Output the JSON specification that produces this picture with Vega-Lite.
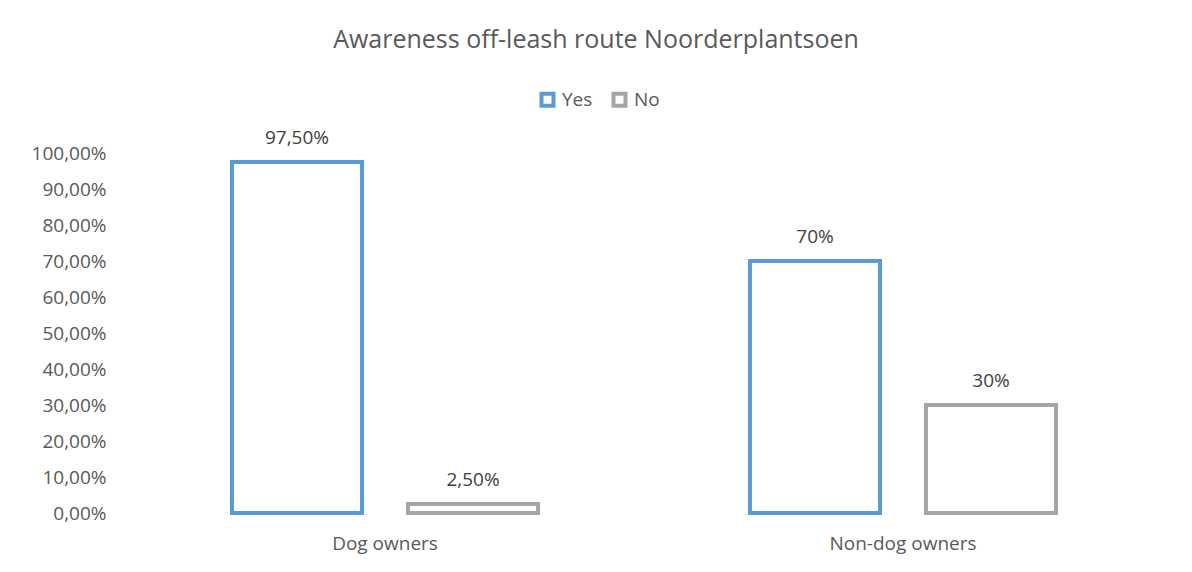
{
  "$schema": "https://vega.github.io/schema/vega-lite/v6.json",
  "width": 1036,
  "height": 360,
  "autosize": {"type": "none"},
  "padding": {"left": 126, "top": 153, "right": 30, "bottom": 59},
  "background": "white",
  "config": {
    "font": "Open Sans",
    "view": {"stroke": null},
    "locale": {
      "number": {"decimal": ",", "thousands": ".", "grouping": [3], "currency": ["", " €"]}
    }
  },
  "title": {
    "text": "Awareness off-leash route Noorderplantsoen",
    "fontSize": 25,
    "fontWeight": "normal",
    "color": "#595959",
    "anchor": "middle",
    "dx": -48,
    "offset": 37
  },
  "data": {
    "values": [
      {"group": "Dog owners", "answer": "Yes", "value": 0.975, "label": "97,50%"},
      {"group": "Dog owners", "answer": "No", "value": 0.025, "label": "2,50%"},
      {"group": "Non-dog owners", "answer": "Yes", "value": 0.70, "label": "70%"},
      {"group": "Non-dog owners", "answer": "No", "value": 0.30, "label": "30%"}
    ]
  },
  "encoding": {
    "x": {
      "field": "group",
      "type": "nominal",
      "sort": ["Dog owners", "Non-dog owners"],
      "scale": {"paddingInner": 0, "paddingOuter": 0},
      "axis": {
        "title": null,
        "labelAngle": 0,
        "ticks": false,
        "domain": false,
        "labelFontSize": 19,
        "labelColor": "#595959",
        "labelPadding": 21
      }
    },
    "xOffset": {
      "field": "answer",
      "type": "nominal",
      "sort": ["Yes", "No"],
      "scale": {"paddingInner": 0.261, "paddingOuter": 0.602}
    },
    "y": {
      "field": "value",
      "type": "quantitative",
      "scale": {"domain": [0, 1], "nice": false},
      "axis": {
        "title": null,
        "values": [0, 0.1, 0.2, 0.3, 0.4, 0.5, 0.6, 0.7, 0.8, 0.9, 1],
        "format": ".2%",
        "ticks": false,
        "domain": false,
        "grid": false,
        "labelFontSize": 19,
        "labelColor": "#595959",
        "labelPadding": 20
      }
    }
  },
  "layer": [
    {
      "mark": {"type": "bar", "fill": "white", "strokeWidth": 4},
      "encoding": {
        "stroke": {
          "field": "answer",
          "type": "nominal",
          "sort": ["Yes", "No"],
          "scale": {"domain": ["Yes", "No"], "range": ["#5B9BD5", "#A5A5A5"]},
          "legend": {
            "title": null,
            "orient": "none",
            "direction": "horizontal",
            "legendX": 412,
            "legendY": -63,
            "padding": 0,
            "symbolType": "square",
            "symbolSize": 144,
            "symbolStrokeWidth": 4,
            "symbolFillColor": "white",
            "labelFontSize": 19,
            "labelColor": "#595959",
            "labelOffset": 5,
            "columnPadding": 12
          }
        }
      }
    },
    {
      "mark": {"type": "text", "dy": -14, "fontSize": 19, "color": "#404040", "baseline": "bottom"},
      "encoding": {"text": {"field": "label"}}
    }
  ]
}
